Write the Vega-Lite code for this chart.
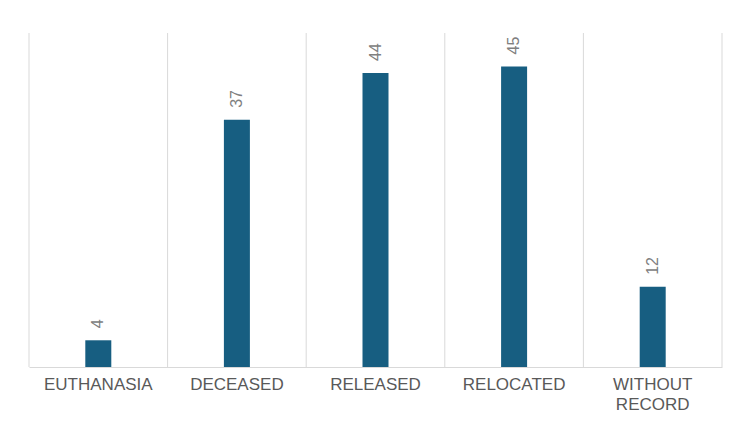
{
  "$schema": "https://vega.github.io/schema/vega-lite/v6.json",
  "width": 693,
  "height": 334,
  "autosize": "none",
  "padding": {"left": 29, "top": 33, "right": 13, "bottom": 56},
  "background": "white",
  "config": {"view": {"stroke": null}, "font": "Liberation Sans"},
  "data": {"values": [
    {"cat": "EUTHANASIA", "n": 4},
    {"cat": "DECEASED", "n": 37},
    {"cat": "RELEASED", "n": 44},
    {"cat": "RELOCATED", "n": 45},
    {"cat": "WITHOUT RECORD", "n": 12}
  ]},
  "encoding": {
    "x": {"field": "cat", "type": "nominal", "sort": null,
      "scale": {"paddingInner": 0, "paddingOuter": 0},
      "axis": {"title": null, "labelAngle": 0, "ticks": false, "grid": false,
        "domainColor": "#d9d9d9", "domainWidth": 1,
        "labelColor": "#595959", "labelFontSize": 17, "labelPadding": 9,
        "labelBaseline": "top", "labelLineHeight": 20,
        "labelExpr": "datum.value == 'WITHOUT RECORD' ? ['WITHOUT', 'RECORD'] : datum.value"}}
  },
  "layer": [
    {"mark": {"type": "rule", "color": "#d9d9d9", "strokeWidth": 1},
     "encoding": {"x": {"field": "cat", "type": "nominal", "sort": null, "bandPosition": 0}}},
    {"transform": [{"filter": "datum.cat == 'WITHOUT RECORD'"}],
     "mark": {"type": "rule", "color": "#d9d9d9", "strokeWidth": 1},
     "encoding": {"x": {"field": "cat", "type": "nominal", "sort": null, "bandPosition": 1}}},
    {"mark": {"type": "bar", "width": 26, "color": "#175e81"},
     "encoding": {"y": {"field": "n", "type": "quantitative",
       "scale": {"domain": [0, 50], "nice": false},
       "axis": null}}},
    {"mark": {"type": "text", "angle": 270, "align": "left", "baseline": "middle", "dx": 12,
       "fontSize": 16, "color": "#808080"},
     "encoding": {"y": {"field": "n", "type": "quantitative"}, "text": {"field": "n"}}}
  ]
}
